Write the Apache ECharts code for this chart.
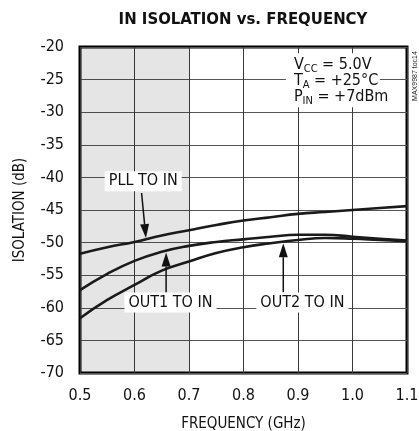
<!DOCTYPE html>
<html><head><meta charset="utf-8">
<script src="https://cdn.jsdelivr.net/npm/echarts@6/dist/echarts.min.js"></script>
<style>html,body{margin:0;padding:0;background:#fff}#c{width:419px;height:431px}</style>
</head><body><div id="c"></div>
<script>
const freq = [0.5,0.55,0.6,0.65,0.7,0.75,0.8,0.85,0.9,0.95,1.0,1.05,1.1];
const pllToIn  = [-51.7,-50.7,-49.9,-48.9,-48.1,-47.3,-46.6,-46.1,-45.6,-45.3,-45.0,-44.7,-44.4];
const out1ToIn = [-57.3,-54.8,-52.8,-51.4,-50.5,-49.9,-49.5,-49.1,-48.8,-48.8,-49.1,-49.4,-49.7];
const out2ToIn = [-61.6,-58.8,-56.5,-54.3,-52.9,-51.6,-50.7,-50.1,-49.6,-49.3,-49.4,-49.6,-49.8];
const xTickLabels = ['0.5','0.6','0.7','0.8','0.9','1.0','1.1'];
const yTickLabels = ['-70','-65','-60','-55','-50','-45','-40','-35','-30','-25','-20'];
const shadedBand = [0.5, 0.7];
// annotations: [label, labelX, labelY, arrowFromX, arrowFromY, arrowToX, arrowToY]
const annotations = [
  ['PLL TO IN', 0.616, -40.6, 0.613, -42.4, 0.621, -49.3],
  ['OUT1 TO IN', 0.666, -59.2, 0.658, -57.6, 0.658, -51.5],
  ['OUT2 TO IN', 0.908, -59.2, 0.873, -57.6, 0.873, -50.1]
];
const condBox = [0.964, -25.1];
const condLines = [['V','CC',' = 5.0V'],['T','A',' = +25°C'],['P','IN',' = +7dBm']];

const FONT = '"Liberation Sans Narrow","DejaVu Sans Condensed","Liberation Sans",sans-serif';
const chart = echarts.init(document.getElementById('c'), null, {renderer:'canvas'});
const mk = (name, ys) => ({
  name, type:'line', smooth:true, showSymbol:false, z:5,
  data: freq.map((f,i)=>[f, ys[i]]),
  lineStyle:{color:'#1a1a1a', width:2.6}
});
chart.setOption({
  animation:false,
  grid:{left:80, top:47, width:327, height:326, show:true, borderColor:'#000', borderWidth:3, backgroundColor:'transparent', outerBoundsMode:'none', containLabel:false},
  xAxis:{type:'value', min:0.5, max:1.1, interval:0.1,
    axisLine:{show:false}, axisTick:{show:false},
    splitLine:{lineStyle:{color:'#3a3a3a', width:1}},
    axisLabel:{margin:15, fontFamily:FONT, fontSize:16, color:'#111',
      formatter:v=>xTickLabels[Math.round((v-0.5)/0.1)]},
    name:'FREQUENCY (GHz)', nameLocation:'middle', nameGap:44,
    nameTextStyle:{fontFamily:FONT, fontSize:15, color:'#111'}},
  yAxis:{type:'value', min:-70, max:-20, interval:5,
    axisLine:{show:false}, axisTick:{show:false},
    splitLine:{lineStyle:{color:'#555', width:1}},
    axisLabel:{margin:16, fontFamily:FONT, fontSize:16, color:'#111',
      formatter:v=>yTickLabels[Math.round((v+70)/5)]},
    name:'ISOLATION (dB)', nameLocation:'middle', nameGap:52, nameRotate:90,
    nameTextStyle:{fontFamily:FONT, fontSize:15, color:'#111'}},
  series:[
    {type:'line', data:[], z:1, markArea:{silent:true, itemStyle:{color:'rgba(0,0,0,0.1)'},
      data:[[{xAxis:shadedBand[0]},{xAxis:shadedBand[1]}]]}},
    mk('PLL TO IN', pllToIn), mk('OUT1 TO IN', out1ToIn), mk('OUT2 TO IN', out2ToIn)
  ]
});

const px = p => chart.convertToPixel({gridIndex:0}, p);
const g = [];
g.push({type:'text', x:243, y:20, z:20, style:{text:'IN ISOLATION vs. FREQUENCY', fontFamily:FONT, fontWeight:'bold', fontSize:16.6, fill:'#111', align:'center', verticalAlign:'middle'}});
g.push({type:'text', x:415, y:76, rotation:Math.PI/2, z:20, style:{text:'MAX9987 toc14', fontFamily:'"Liberation Sans",sans-serif', fontSize:7, fill:'#222', align:'center', verticalAlign:'middle'}});
annotations.forEach(a=>{
  const c = px([a[1],a[2]]), f = px([a[3],a[4]]), t = px([a[5],a[6]]);
  g.push({type:'text', x:c[0], y:c[1], z:20, style:{text:a[0], fontFamily:FONT, fontSize:16, fill:'#111', align:'center', verticalAlign:'middle', backgroundColor:'#fff', padding:[2,4,2,4]}});
  const dx=t[0]-f[0], dy=t[1]-f[1], L=Math.hypot(dx,dy), ux=dx/L, uy=dy/L;
  const hl=14, hw=4.5;
  const bx=t[0]-ux*hl, by=t[1]-uy*hl;
  g.push({type:'line', z:21, shape:{x1:f[0],y1:f[1],x2:bx,y2:by}, style:{stroke:'#111', lineWidth:1.5}});
  g.push({type:'polygon', z:21, shape:{points:[[t[0],t[1]],[bx-uy*hw,by+ux*hw],[bx+uy*hw,by-ux*hw]]}, style:{fill:'#111'}});
});
const cb = px(condBox);
g.push({type:'rect', z:19, shape:{x:cb[0]-47, y:cb[1]-27, width:94, height:54}, style:{fill:'#fff'}});
condLines.forEach((l,i)=>{
  g.push({type:'text', x:cb[0]-39, y:cb[1]-15+i*16, z:20, style:{
    text:'{n|'+l[0]+'}{s|'+l[1]+'}{n|'+l[2]+'}', align:'left', verticalAlign:'middle',
    rich:{n:{fontFamily:FONT, fontSize:16, fill:'#111', lineHeight:16},
          s:{fontFamily:FONT, fontSize:11, fill:'#111', lineHeight:16, padding:[7,0,0,0]}}}});
});
chart.setOption({graphic:g});
</script></body></html>
